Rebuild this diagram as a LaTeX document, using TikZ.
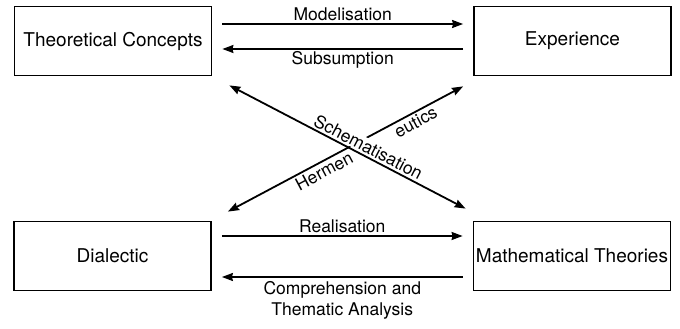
\documentclass[tikz,border=0pt]{standalone}
\usepackage{fontspec}
\setmainfont{TeX Gyre Heros}
\usetikzlibrary{arrows.meta}
\begin{document}
\begin{tikzpicture}[x=1pt,y=-1pt,
  box/.style={draw,line width=1.8pt,minimum width=197pt,minimum height=69pt,inner sep=0pt,font=\fontsize{19}{23}\selectfont},
  arr/.style={line width=1.8pt,-{Stealth[length=11pt,width=8pt,inset=1pt]}},
  darr/.style={line width=1.8pt,{Stealth[length=11pt,width=8pt,inset=1pt]}-{Stealth[length=11pt,width=8pt,inset=1pt]}},
  lab/.style={font=\fontsize{17.5}{21}\selectfont,inner sep=2pt}]
\useasboundingbox (0,0) rectangle (680,329);
\node[box] (TC) at (113,41) {Theoretical Concepts};
\node[box] (EX) at (572.5,41) {Experience};
\node[box] (DI) at (112.5,256) {Dialectic};
\node[box] (MT) at (572,256) {Mathematical Theories};
\draw[arr] ([shift={(10,-17)}]TC.east) -- node[lab,above] {Modelisation} ([shift={(-10,-17)}]EX.west);
\draw[arr] ([shift={(-10,8)}]EX.west) -- node[lab,below] {Subsumption} ([shift={(10,8)}]TC.east);
\draw[arr] ([shift={(10,-20)}]DI.east) -- node[lab,above] {Realisation} ([shift={(-10,-20)}]MT.west);
\draw[arr] ([shift={(-10,21)}]MT.west) -- node[lab,below,align=center,inner sep=4pt] {Comprehension and\\Thematic Analysis} ([shift={(10,21)}]DI.east);
\draw[darr] ([shift={(16,-9)}]DI.north east) -- node[lab,sloped,below,pos=0.39] {Hermen} node[lab,sloped,below,pos=0.78] {eutics} ([shift={(-10,10)}]EX.south west);
\draw[darr] ([shift={(17,9)}]TC.south east) -- node[lab,sloped,above,pos=0.57,fill=white,inner sep=1pt,yshift=1pt] {Schematisation} ([shift={(-7,-12)}]MT.north west);
\end{tikzpicture}
\end{document}
